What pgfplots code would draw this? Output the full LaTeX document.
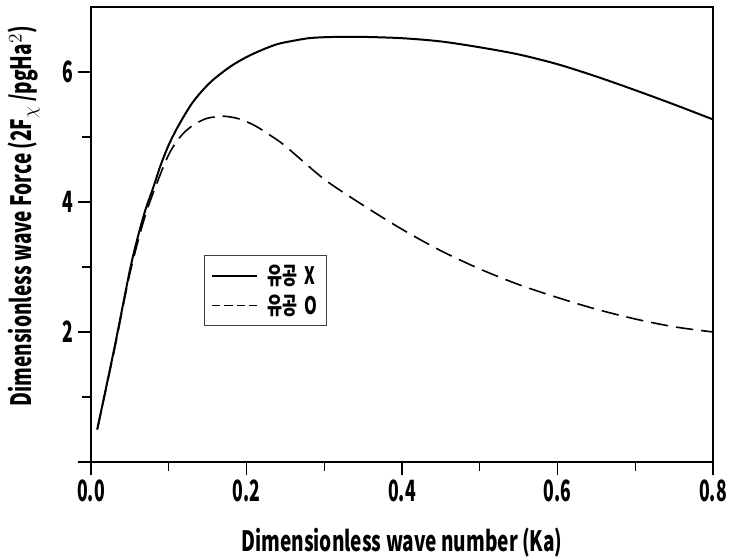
\documentclass[border=0pt]{standalone}
\usepackage{fontspec}
\setmainfont{Noto Sans CJK KR}[FakeStretch=0.68]
\newfontfamily\tickfont{Noto Sans CJK KR}[FakeStretch=0.60]
\usepackage{pgfplots}
\pgfplotsset{compat=1.18}
\begin{document}
\begin{tikzpicture}
\begin{axis}[
  scale only axis,
  width=466.5pt, height=341.25pt,
  xmin=0, xmax=0.8, ymin=0, ymax=7,
  axis line style={line width=1.3pt},
  xtick={0,0.2,0.4,0.6,0.8},
  minor xtick={0.1,0.3,0.5,0.7},
  ytick={0,2,4,6},
  yticklabels={,2,4,6},
  minor ytick={1,3,5},
  tick align=outside,
  xtick pos=bottom, ytick pos=left,
  major tick length=10pt, minor tick length=6.5pt,
  tick style={line width=1.1pt, black},
  /pgf/number format/assume math mode=true,
  xticklabel style={/pgf/number format/fixed, /pgf/number format/fixed zerofill, /pgf/number format/precision=1, font=\tickfont\fontsize{22}{24}\selectfont\bfseries},
  yticklabel style={font=\tickfont\fontsize{22}{24}\selectfont\bfseries},
  xlabel={Dimensionless wave number (Ka)},
  ylabel={Dimensionless wave Force (2F$_{\chi}$ /pgHa$^{2}$)},
  xlabel style={at={(axis description cs:0.5,-0.178)}, anchor=center, font=\fontsize{21}{23}\selectfont\bfseries},
  ylabel style={at={(axis description cs:-0.108,0.54)}, anchor=center, font=\fontsize{21}{23}\selectfont\bfseries},
  legend style={at={(axis cs:0.145,3.18)}, anchor=north west, draw=black!75, line width=0.7pt,
    font=\fontsize{18}{20}\selectfont\bfseries, inner xsep=5pt, inner ysep=5pt, row sep=2pt, cells={anchor=west}},
  legend cell align=left,
  legend image code/.code={\draw[#1] (0cm,0cm) -- (34pt,0cm);},
]
\addplot[black, line width=1.5pt, smooth] coordinates {
(0.008,0.50) (0.03,1.75) (0.05,2.95) (0.06,3.45) (0.07,3.88) (0.08,4.22) (0.09,4.58)
(0.10,4.88) (0.11,5.12) (0.12,5.33) (0.13,5.52) (0.14,5.67) (0.15,5.80) (0.16,5.91)
(0.18,6.09) (0.20,6.23) (0.22,6.34) (0.24,6.43) (0.26,6.48) (0.28,6.52) (0.30,6.535)
(0.32,6.54) (0.35,6.54) (0.40,6.52) (0.45,6.47) (0.50,6.38) (0.55,6.27) (0.60,6.12)
(0.65,5.93) (0.70,5.72) (0.75,5.50) (0.80,5.27)
};
\addlegendentry{\hspace{5pt}유공\hspace{5pt}X}
\addplot[black, line width=1.2pt, smooth, dash pattern=on 13pt off 6pt,
  legend image code/.code={\draw[black, line width=1.2pt, dash pattern=on 6.2pt off 3.2pt] (0cm,0cm) -- (34pt,0cm);}] coordinates {
(0.008,0.50) (0.03,1.72) (0.05,2.90) (0.07,3.80) (0.09,4.45) (0.10,4.73) (0.11,4.93)
(0.12,5.07) (0.13,5.17) (0.14,5.24) (0.15,5.29) (0.17,5.32) (0.19,5.28) (0.21,5.18)
(0.23,5.03) (0.25,4.86) (0.30,4.35) (0.35,3.95) (0.40,3.58) (0.45,3.25) (0.50,2.97)
(0.55,2.73) (0.60,2.53) (0.65,2.35) (0.70,2.20) (0.75,2.08) (0.80,2.00)
};
\addlegendentry{\hspace{5pt}유공\hspace{5pt}O}
\end{axis}
\pgfresetboundingbox
\path[use as bounding box] ([xshift=-68.25pt,yshift=-73.5pt]current axis.south west) rectangle ([xshift=13.5pt,yshift=5.25pt]current axis.north east);
\end{tikzpicture}
\end{document}
